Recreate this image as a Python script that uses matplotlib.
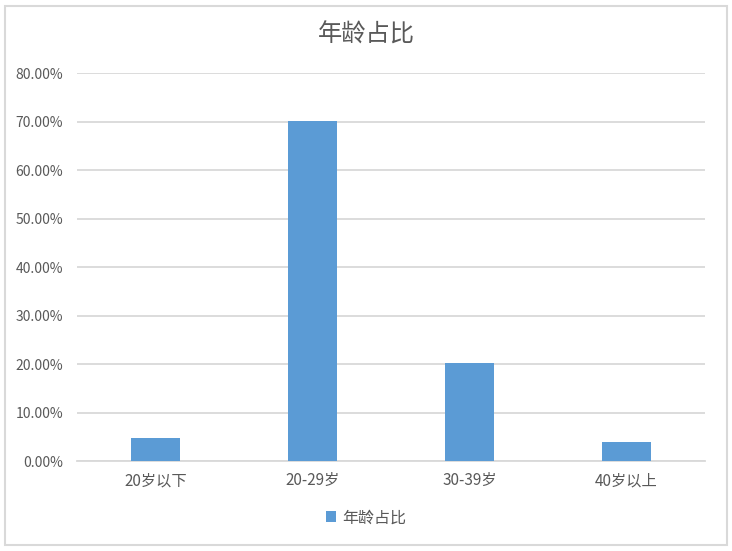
import matplotlib.pyplot as plt
from matplotlib.patches import Rectangle
from matplotlib.ticker import PercentFormatter

plt.rcParams['font.family'] = ['Noto Sans CJK SC', 'DejaVu Sans']

categories = ['20岁以下', '20-29岁', '30-39岁', '40岁以上']
shares = [0.047, 0.701, 0.202, 0.039]
series_name = '年龄占比'

text_color = '#595959'
bar_color = '#5B9BD5'
grid_color = '#D9D9D9'

fig = plt.figure(figsize=(7.32, 5.51), dpi=100)
ax = fig.add_axes([0.105, 0.163, 0.858, 0.7045])

ax.bar(range(len(categories)), shares, width=0.31, color=bar_color,
       label=series_name, zorder=3)

ax.set_xlim(-0.5, len(categories) - 0.5)
ax.set_ylim(0, 0.8)
ax.set_yticks([i / 10 for i in range(9)])
ax.yaxis.set_major_formatter(PercentFormatter(1.0, decimals=2))
ax.set_xticks(range(len(categories)))
ax.set_xticklabels(categories)

ax.grid(axis='y', color=grid_color, linewidth=1.3, zorder=0)
for s in ['top', 'right', 'left']:
    ax.spines[s].set_visible(False)
ax.spines['bottom'].set_color(grid_color)
ax.spines['bottom'].set_linewidth(1.3)
ax.tick_params(axis='y', length=0, labelsize=10, colors=text_color, pad=10)
ax.tick_params(axis='x', length=0, labelsize=11, colors=text_color, pad=8)

fig.text(0.5, 0.938, series_name, ha='center', va='center',
         fontsize=17.5, color=text_color)

leg = fig.legend(loc='center', bbox_to_anchor=(0.5, 0.06), frameon=False,
                 fontsize=11.5, handlelength=0.65, handleheight=0.65,
                 handletextpad=0.4, labelcolor=text_color)

# outer chart border
fig.patches.append(Rectangle((0.007, 0.01), 0.986, 0.98, transform=fig.transFigure,
                             fill=False, edgecolor='#D9D9D9', linewidth=1.5))

fig.savefig('out.png', dpi=100)
